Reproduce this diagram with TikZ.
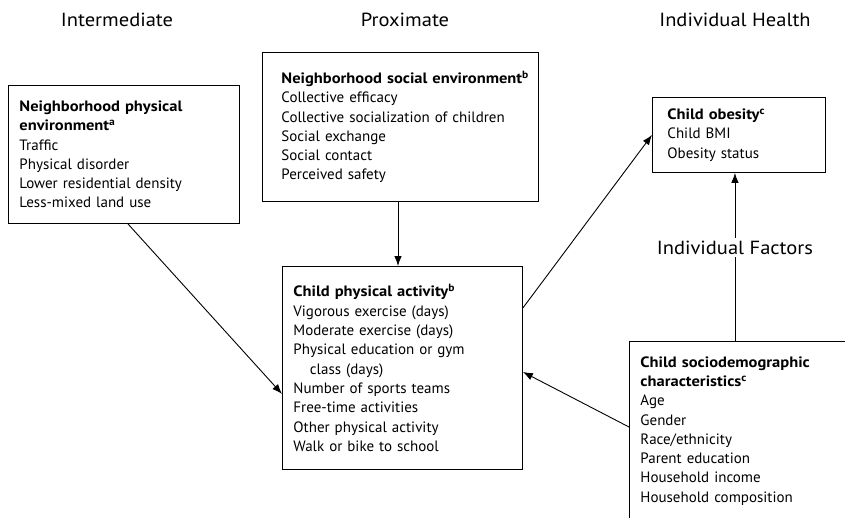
\documentclass[tikz,border=0pt]{standalone}
\usepackage{fontspec}
\setmainfont{PT Sans}[BoldFeatures={FakeStretch=1.1}]
\newfontfamily\headfont{PT Sans}[FakeStretch=1.08]
\usetikzlibrary{arrows.meta, positioning}

\begin{document}
\begin{tikzpicture}[
  x=1pt, y=-1pt,
  box/.style={
    rectangle, draw, line width=0.9pt, anchor=north west,
    align=left, inner ysep=0pt,
    font=\fontsize{15}{19.3}\selectfont
  },
  head/.style={font=\headfont\fontsize{19}{22}\selectfont},
  line/.style={draw, line width=0.9pt, -{Latex[length=10pt, width=7.5pt]}}
]
  \useasboundingbox (0,0) rectangle (845,517);
  \clip (0,0) rectangle (845,517);

  % column headings
  \node [head] (hinter) at (117,20) {Intermediate};
  \node [head] (hprox) at (405,20) {Proximate};
  \node [head] (hhealth) at (735,20) {Individual Health};

  % boxes
  \node [box, text width=209pt, inner xsep=11pt, minimum height=138pt] (phys) at (8,85)
    {\textbf{Neighborhood physical}\\
     \textbf{environment\textsuperscript{a}}\\
     Traffic\\ Physical disorder\\ Lower residential density\\ Less-mixed land use};
  \node [box, text width=238pt, inner xsep=19pt, minimum height=149pt] (social) at (262,52)
    {\mbox{\textbf{Neighborhood social environment\textsuperscript{b}}}\\
     Collective efficacy\\ Collective socialization of children\\
     Social exchange\\ Social contact\\ Perceived safety};
  \node [box, text width=218pt, inner xsep=11pt, minimum height=203pt] (activity) at (282,266)
    {\textbf{Child physical activity\textsuperscript{b}}\\
     Vigorous exercise (days)\\ Moderate exercise (days)\\
     Physical education or gym\\ \hspace*{1.1em}class (days)\\
     Number of sports teams\\ Free-time activities\\
     Other physical activity\\ Walk or bike to school};
  \node [box, text width=143pt, inner xsep=15pt, minimum height=75pt] (obesity) at (652,97)
    {\textbf{Child obesity\textsuperscript{c}}\\ Child BMI\\ Obesity status};
  \node [box, text width=300pt, inner xsep=11pt, inner ysep=15pt] (socio) at (629,341)
    {\textbf{Child sociodemographic}\\
     \textbf{characteristics\textsuperscript{c}}\\
     Age\\ Gender\\ Race/ethnicity\\ Parent education\\
     Household income\\ Household composition\\ \mbox{}};

  % connectors
  \path [line] ([xshift=4pt]phys.south) -- ([yshift=-26pt]activity.west);
  \path [line] (social.south -| 398,0) -- (activity.north -| 398,0);
  \path [line] ([yshift=60pt]activity.east) -- (obesity.west);
  \path [line] ([yshift=-86pt]socio.north west) -- ([yshift=-4pt]activity.east);
  \path [line] ([xshift=-4pt]obesity.south |- socio.north) --
    node[pos=0.556, fill=white, inner sep=3pt, head] (factors) {Individual Factors}
    ([xshift=-4pt]obesity.south);

\end{tikzpicture}
\end{document}
